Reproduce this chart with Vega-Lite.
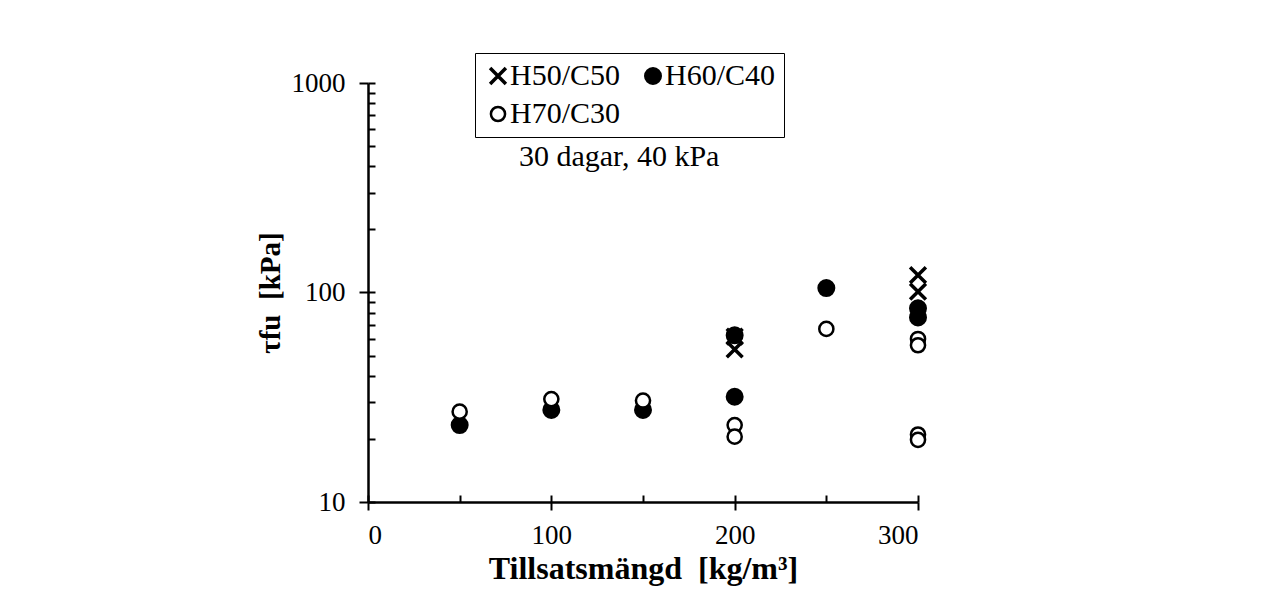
{
  "$schema": "https://vega.github.io/schema/vega-lite/v6.json",
  "autosize": "none",
  "width": 550,
  "height": 419,
  "padding": {"left": 368, "top": 83, "right": 364, "bottom": 112},
  "background": "white",
  "config": {
    "view": {"stroke": null},
    "font": "Liberation Serif",
    "axis": {"grid": false, "labelFont": "Liberation Serif", "titleFont": "Liberation Serif", "labelColor": "black", "titleColor": "black", "domainColor": "black", "tickColor": "black"}
  },
  "data": {
    "values": [
      {"serie": "H50/C50", "mangd": 200, "tau": 61.5},
      {"serie": "H50/C50", "mangd": 200, "tau": 53.5},
      {"serie": "H50/C50", "mangd": 300, "tau": 121},
      {"serie": "H50/C50", "mangd": 300, "tau": 101},
      {"serie": "H60/C40", "mangd": 50, "tau": 23.3},
      {"serie": "H60/C40", "mangd": 100, "tau": 27.5},
      {"serie": "H60/C40", "mangd": 150, "tau": 27.5},
      {"serie": "H60/C40", "mangd": 200, "tau": 62.5},
      {"serie": "H60/C40", "mangd": 200, "tau": 31.8},
      {"serie": "H60/C40", "mangd": 250, "tau": 105},
      {"serie": "H60/C40", "mangd": 300, "tau": 84},
      {"serie": "H60/C40", "mangd": 300, "tau": 76},
      {"serie": "H70/C30", "mangd": 50, "tau": 27},
      {"serie": "H70/C30", "mangd": 100, "tau": 31},
      {"serie": "H70/C30", "mangd": 150, "tau": 30.5},
      {"serie": "H70/C30", "mangd": 200, "tau": 23.3},
      {"serie": "H70/C30", "mangd": 200, "tau": 20.5},
      {"serie": "H70/C30", "mangd": 250, "tau": 67},
      {"serie": "H70/C30", "mangd": 300, "tau": 60},
      {"serie": "H70/C30", "mangd": 300, "tau": 56},
      {"serie": "H70/C30", "mangd": 300, "tau": 21},
      {"serie": "H70/C30", "mangd": 300, "tau": 19.8}
    ]
  },
  "layer": [
    {
      "mark": {"type": "point", "filled": true, "stroke": "black", "opacity": 1},
      "encoding": {
        "x": {
          "field": "mangd", "type": "quantitative",
          "scale": {"domain": [0, 300], "nice": false, "zero": false},
          "axis": {"orient": "bottom", "values": [0, 100, 200, 300], "tickSize": 8, "tickWidth": 2, "domainWidth": 2.5, "labelFontSize": 27, "labelPadding": 12, "title": "Tillsatsmängd\u00a0\u00a0[kg/m³]", "titleFontSize": 32, "titleFontWeight": "bold", "titlePadding": 5}
        },
        "y": {
          "field": "tau", "type": "quantitative",
          "scale": {"type": "log", "domain": [10, 1000], "nice": false},
          "axis": {"orient": "left", "values": [10, 100, 1000], "format": "d", "tickSize": 9, "tickWidth": 2, "domainWidth": 2.5, "labelFontSize": 27, "labelPadding": 14, "title": "τfu\u00a0\u00a0[kPa]", "titleFontSize": 29, "titleFontWeight": "bold", "titlePadding": 6}
        },
        "shape": {
          "field": "serie", "type": "nominal",
          "scale": {"domain": ["H50/C50", "H60/C40", "H70/C30"], "range": ["M-1,-1L1,1M1,-1L-1,1", "circle", "circle"]},
          "legend": {
            "title": null, "orient": "none", "legendX": 107, "legendY": -30, "direction": "horizontal", "columns": 2, "columnPadding": 17, "rowPadding": 8, "padding": 8,
            "strokeColor": "black", "fillColor": "white", "labelFont": "Liberation Serif", "labelFontSize": 30, "labelColor": "black", "labelOffset": -3, "labelLimit": 0,
            "encode": {
              "symbols": {"update": {"stroke": {"value": "black"}}},
              "legend": {"update": {"strokeWidth": {"value": 1.5}}}
            }
          }
        },
        "fill": {
          "field": "serie", "type": "nominal",
          "scale": {"domain": ["H50/C50", "H60/C40", "H70/C30"], "range": ["white", "black", "white"]}
        },
        "size": {
          "field": "serie", "type": "nominal",
          "scale": {"domain": ["H50/C50", "H60/C40", "H70/C30"], "range": [250, 200, 175]}
        },
        "strokeWidth": {
          "field": "serie", "type": "nominal",
          "scale": {"domain": ["H50/C50", "H60/C40", "H70/C30"], "range": [3.5, 2.5, 2.5]}
        }
      }
    },
    {
      "data": {"values": [{"label": "30 dagar, 40 kPa"}]},
      "mark": {"type": "text", "font": "Liberation Serif", "fontSize": 30, "fontWeight": "normal", "fill": "black", "align": "center", "baseline": "middle"},
      "encoding": {
        "x": {"datum": 137, "type": "quantitative", "axis": {"orient": "bottom", "values": [0, 50, 100, 150, 200, 250, 300], "tickSize": -7, "tickWidth": 2, "domain": false, "labels": false, "title": null}},
        "y": {"datum": 443, "type": "quantitative", "axis": {"orient": "left", "values": [10, 20, 30, 40, 50, 60, 70, 80, 90, 100, 200, 300, 400, 500, 600, 700, 800, 900, 1000], "tickSize": -7, "tickWidth": 2, "domain": false, "labels": false, "title": null}},
        "text": {"field": "label", "type": "nominal"}
      }
    }
  ],
  "resolve": {"axis": {"x": "independent", "y": "independent"}}
}
